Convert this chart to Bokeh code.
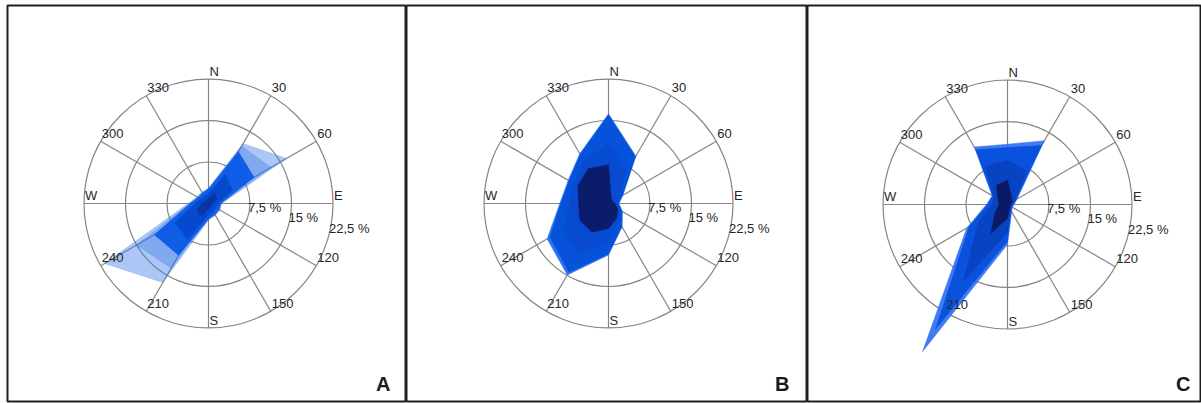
import numpy as np
from bokeh.plotting import figure
from bokeh.layouts import row
from bokeh.models import Range1d
from bokeh.core.properties import value
from bokeh.embed import file_html
from bokeh.resources import INLINE

# Direction bins, degrees clockwise from north
bearings = [0, 30, 60, 90, 120, 150, 180, 210, 240, 270, 300, 330]
dir_labels = ["N", "30", "60", "E", "120", "150", "S", "210", "240", "W", "300", "330"]

# Frequency rings (%) and their labels
rings = [7.5, 15.0, 22.5]
ring_labels = ["7,5 %", "15 %", "22,5 %"]

# Cumulative frequency (%) per direction, from the lowest speed class outwards
rose_a = [
    [0.8, 2.2, 1.8, 0.7, 0.6, 0.7, 1.0, 2.6, 2.4, 1.1, 0.7, 0.6],
    [1.8, 6.0, 5.0, 1.6, 1.5, 1.6, 2.0, 7.5, 7.0, 2.4, 1.6, 1.5],
    [2.6, 10.8, 9.5, 2.2, 2.2, 2.3, 2.8, 10.8, 11.3, 3.3, 2.2, 2.2],
    [2.7, 12.0, 13.0, 2.3, 2.3, 2.4, 2.9, 13.5, 15.0, 3.5, 2.3, 2.3],
    [2.8, 12.5, 16.3, 2.4, 2.4, 2.5, 3.0, 16.5, 21.7, 3.7, 2.4, 2.4],
]
rose_b = [
    [7.0, 1.0, 0.8, 1.2, 2.0, 3.0, 4.5, 6.0, 6.0, 5.4, 6.4, 7.3],
    [11.0, 6.5, 2.2, 1.4, 2.3, 3.8, 7.0, 10.5, 9.5, 7.0, 7.2, 8.8],
    [16.0, 9.7, 2.9, 1.8, 2.8, 4.8, 9.1, 14.3, 12.2, 8.6, 8.2, 10.2],
    [16.2, 9.9, 3.0, 1.9, 2.9, 4.9, 9.3, 14.9, 12.8, 8.8, 8.4, 10.4],
]
rose_c = [
    [4.4, 1.5, 1.0, 0.6, 0.6, 0.8, 2.5, 6.0, 2.5, 1.5, 2.0, 4.0],
    [8.0, 7.0, 1.5, 0.8, 0.8, 1.1, 5.0, 16.0, 6.0, 2.8, 2.8, 8.0],
    [10.3, 12.3, 1.8, 1.0, 0.9, 1.3, 6.6, 26.0, 8.0, 3.6, 3.1, 11.4],
    [10.9, 13.3, 2.0, 1.2, 1.0, 1.5, 7.2, 30.7, 8.5, 3.8, 3.2, 12.0],
]

# Fill colour and opacity of each speed class, innermost first
style_a = [("#0a3296", 0.85), ("#0548cc", 0.95), ("#0a58e6", 0.95), ("#2f72e6", 0.35), ("#2f72e6", 0.4)]
style_b = [("#0b1c6c", 1.0), ("#074cd0", 1.0), ("#0652da", 1.0), ("#2a72f2", 1.0)]
style_c = [("#0b1a66", 1.0), ("#0842c0", 0.95), ("#0750dc", 0.95), ("#2a6ef2", 0.9)]

PX = 124.5 / rings[-1]          # screen pixels per percent
FONT = value("Liberation Sans")
GRID = "#858585"
TEXT = "#262626"
H = 403
TOP, BOTTOM = 5, 2


def polar(r, deg):
    t = np.radians(np.asarray(deg, dtype=float))
    r = np.asarray(r, dtype=float)
    return r * np.sin(t), r * np.cos(t)


def panel(letter, rose, styles, width, border_left, cx, cy):
    fw = width - border_left
    fh = H - TOP - BOTTOM
    p = figure(width=width, height=H, output_backend="svg", toolbar_location=None,
               x_axis_location=None, y_axis_location=None,
               x_range=Range1d(-cx / PX, (fw - cx) / PX),
               y_range=Range1d(-(fh - cy) / PX, cy / PX),
               min_border_left=border_left, min_border_right=0,
               min_border_top=TOP, min_border_bottom=BOTTOM)
    p.grid.visible = False
    p.outline_line_color = "#1e1e1e"
    p.outline_line_width = 2
    p.background_fill_color = "white"
    p.border_fill_color = "white"

    R = rings[-1]
    # frequency rings and direction spokes
    p.circle(x=[0] * len(rings), y=[0] * len(rings), radius=rings,
             fill_color=None, line_color=GRID, line_width=1.2)
    half = bearings[:6]
    x1, y1 = polar([R] * len(half), half)
    p.segment(x0=-x1, y0=-y1, x1=x1, y1=y1, line_color=GRID, line_width=1.2)

    # speed classes, outermost drawn first
    for cum, (col, alpha) in reversed(list(zip(rose, styles))):
        xs, ys = polar(cum, bearings)
        p.patch(x=xs, y=ys, fill_color=col, fill_alpha=alpha,
                line_color=col, line_alpha=alpha * 0.5, line_width=1)

    # direction labels sit just outside the outer ring crossing
    lx, ly = polar([R] * len(bearings), bearings)
    p.text(x=lx + 1.0 / PX, y=ly + 8.0 / PX, text=dir_labels,
           text_font=FONT, text_font_size=value("13px"), text_color=TEXT,
           text_align="left", text_baseline="alphabetic")

    # ring labels, stepped down along the east axis
    dx = np.array([2.0, 3.0, 4.0])
    dy = np.array([4.0, 14.0, 25.0])
    p.text(x=np.array(rings) - dx / PX, y=-dy / PX, text=ring_labels,
           text_font=FONT, text_font_size=value("13px"), text_color=TEXT,
           text_align="left", text_baseline="alphabetic")

    # panel letter in the lower right corner
    p.text(x=[(383 - cx) / PX], y=[(cy - 378) / PX], text=[letter],
           text_font=FONT, text_font_size=value("20px"), text_font_style="bold",
           text_color="#1a1a1a", text_align="right", text_baseline="alphabetic")
    return p


pa = panel("A", rose_a, style_a, width=406, border_left=7, cx=201, cy=198)
pb = panel("B", rose_b, style_b, width=401, border_left=0, cx=202, cy=198)
pc = panel("C", rose_c, style_c, width=394, border_left=0, cx=200, cy=199)

layout = row(pa, pb, pc, spacing=0)
open("out.html", "w").write(file_html(layout, INLINE))
